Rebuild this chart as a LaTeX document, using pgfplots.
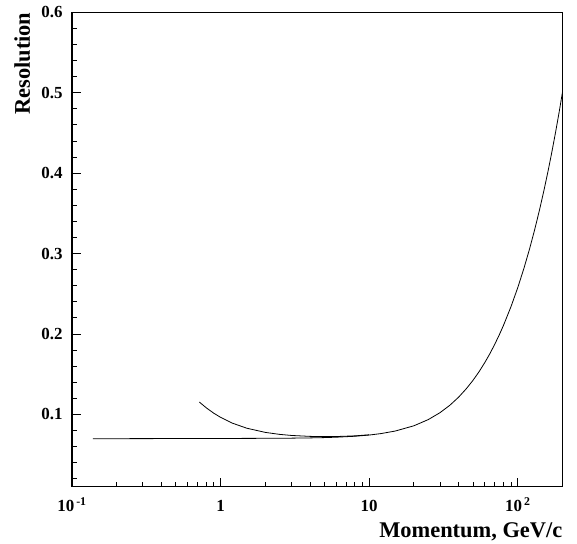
\documentclass[border=0pt]{standalone}
\usepackage{pgfplots}
\pgfplotsset{compat=1.18}
\usepackage{fontspec}
\setmainfont{Liberation Serif}

% momentum resolution: combined curve and the low-momentum branch
\pgfplotstableread{
p      res
0.138  0.0697
0.3    0.0698
0.5    0.0699
1      0.0700
2      0.07018
3      0.07039
4      0.0707
5      0.07109
6      0.07156
8      0.07276
10     0.07426
12     0.07606
15     0.07927
20     0.08579
25     0.09351
30     0.10215
35     0.1115
40     0.12141
45     0.1318
50     0.14240
55     0.1533
60     0.16444
65     0.1757
70     0.18718
75     0.1987
80     0.21039
90     0.23392
100    0.25769
110    0.28164
120    0.30572
130    0.32991
140    0.35419
150    0.37853
160    0.40293
170    0.42737
180    0.45185
190    0.47637
200    0.50092
}\highbranch

\pgfplotstableread{
p      res
0.72   0.1153
0.8    0.1082
0.9    0.1014
1.0    0.09627
1.2    0.08906
1.5    0.08277
2.0    0.07755
2.5    0.07507
3.0    0.07375
4.0    0.0726
5.0    0.0723
6.0    0.0724
8.0    0.07323
10     0.07456
}\lowbranch

\begin{document}
\begin{tikzpicture}
\begin{axis}[
  at={(0,0)}, anchor=south west,
  scale only axis, width=490.5bp, height=474.3bp,
  xmode=log, xmin=0.1, xmax=200, ymin=0.01, ymax=0.6,
  axis line style={line width=1.1pt},
  xtick={0.1,1,10,100},
  xticklabels={10\textsuperscript{\,-1},1,10,10\textsuperscript{\,2}},
  minor xtick={0.2,0.3,0.4,0.5,0.6,0.7,0.8,0.9,2,3,4,5,6,7,8,9,20,30,40,50,60,70,80,90,200},
  ytick={0.1,0.2,0.3,0.4,0.5,0.6},
  yticklabels={0.1,0.2,0.3,0.4,0.5,0.6},
  minor ytick={0.02,0.04,0.06,0.08,0.12,0.14,0.16,0.18,0.22,0.24,0.26,0.28,0.32,0.34,0.36,0.38,0.42,0.44,0.46,0.48,0.52,0.54,0.56,0.58},
  tickpos=left, tick align=inside,
  major tick length=9bp, minor tick length=5bp,
  every tick/.style={black, line width=0.9pt},
  ticklabel style={font=\fontsize{17}{19}\selectfont\bfseries},
  xticklabel style={anchor=base, yshift=-25bp},
  yticklabel style={xshift=-6bp},
  xlabel={Momentum, GeV/c},
  ylabel={Resolution},
  label style={font=\fontsize{22.5}{24}\selectfont\bfseries, inner sep=0pt},
  xlabel style={at={(axis description cs:1,0)}, anchor=base east, yshift=-51bp},
  ylabel style={at={(axis description cs:-0.086,1)}, anchor=base east},
]
\addplot[black, line width=0.8pt] table[x=p, y=res] {\highbranch};
\addplot[black, line width=0.8pt] table[x=p, y=res] {\lowbranch};
\end{axis}
\pgfresetboundingbox
\path (-72bp,-57.3bp) rectangle (505bp,486.7bp);
\end{tikzpicture}
\end{document}
